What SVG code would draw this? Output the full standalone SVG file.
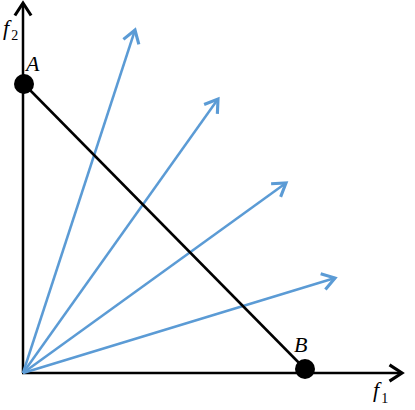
<svg xmlns="http://www.w3.org/2000/svg" width="415" height="410" viewBox="0 0 415 410">
<style>
.ax{stroke:#000;stroke-width:2.5;fill:none}
.bl{stroke:#5B9BD5;stroke-width:2.5;fill:none}
.lbl{font-family:"Liberation Serif",serif;font-style:italic;font-size:22px;fill:#000}
.sub{font-family:"Liberation Serif",serif;font-style:normal;font-size:14px;fill:#000}
</style>
<defs>
<marker id="hk" markerUnits="userSpaceOnUse" markerWidth="20" markerHeight="20" viewBox="-12 -8 14 16" refX="0" refY="0" orient="auto">
<path d="M-10,-6.5 L0,0 L-10,6.5" fill="none" stroke="#000" stroke-width="2.5"/>
</marker>
<marker id="hb" markerUnits="userSpaceOnUse" markerWidth="20" markerHeight="20" viewBox="-12 -8 14 16" refX="0" refY="0" orient="auto">
<path d="M-10,-6.5 L0,0 L-10,6.5" fill="none" stroke="#5B9BD5" stroke-width="2.5"/>
</marker>
</defs>
<g id="connectors">
<line class="ax" x1="23" y1="373" x2="23" y2="3" marker-end="url(#hk)"/>
<line class="ax" x1="22" y1="373" x2="402" y2="373" marker-end="url(#hk)"/>
<line class="bl" x1="23" y1="373" x2="135" y2="30" marker-end="url(#hb)"/>
<line class="bl" x1="23" y1="373" x2="218" y2="99" marker-end="url(#hb)"/>
<line class="bl" x1="23" y1="373" x2="286" y2="183" marker-end="url(#hb)"/>
<line class="bl" x1="23" y1="373" x2="335" y2="278" marker-end="url(#hb)"/>
<line class="ax" x1="24" y1="84" x2="305" y2="369"/>
</g>
<g id="nodeA">
<circle cx="24" cy="84" r="10" fill="#000"/>
<text class="lbl" x="26" y="71">A</text>
</g>
<g id="nodeB">
<circle cx="305" cy="369" r="10" fill="#000"/>
<text class="lbl" x="294" y="352">B</text>
</g>
<g id="labels">
<text class="lbl" x="3" y="35">f<tspan class="sub" dx="2" dy="5">2</tspan></text>
<text class="lbl" x="373" y="397">f<tspan class="sub" dx="2" dy="6">1</tspan></text>
</g>
</svg>
